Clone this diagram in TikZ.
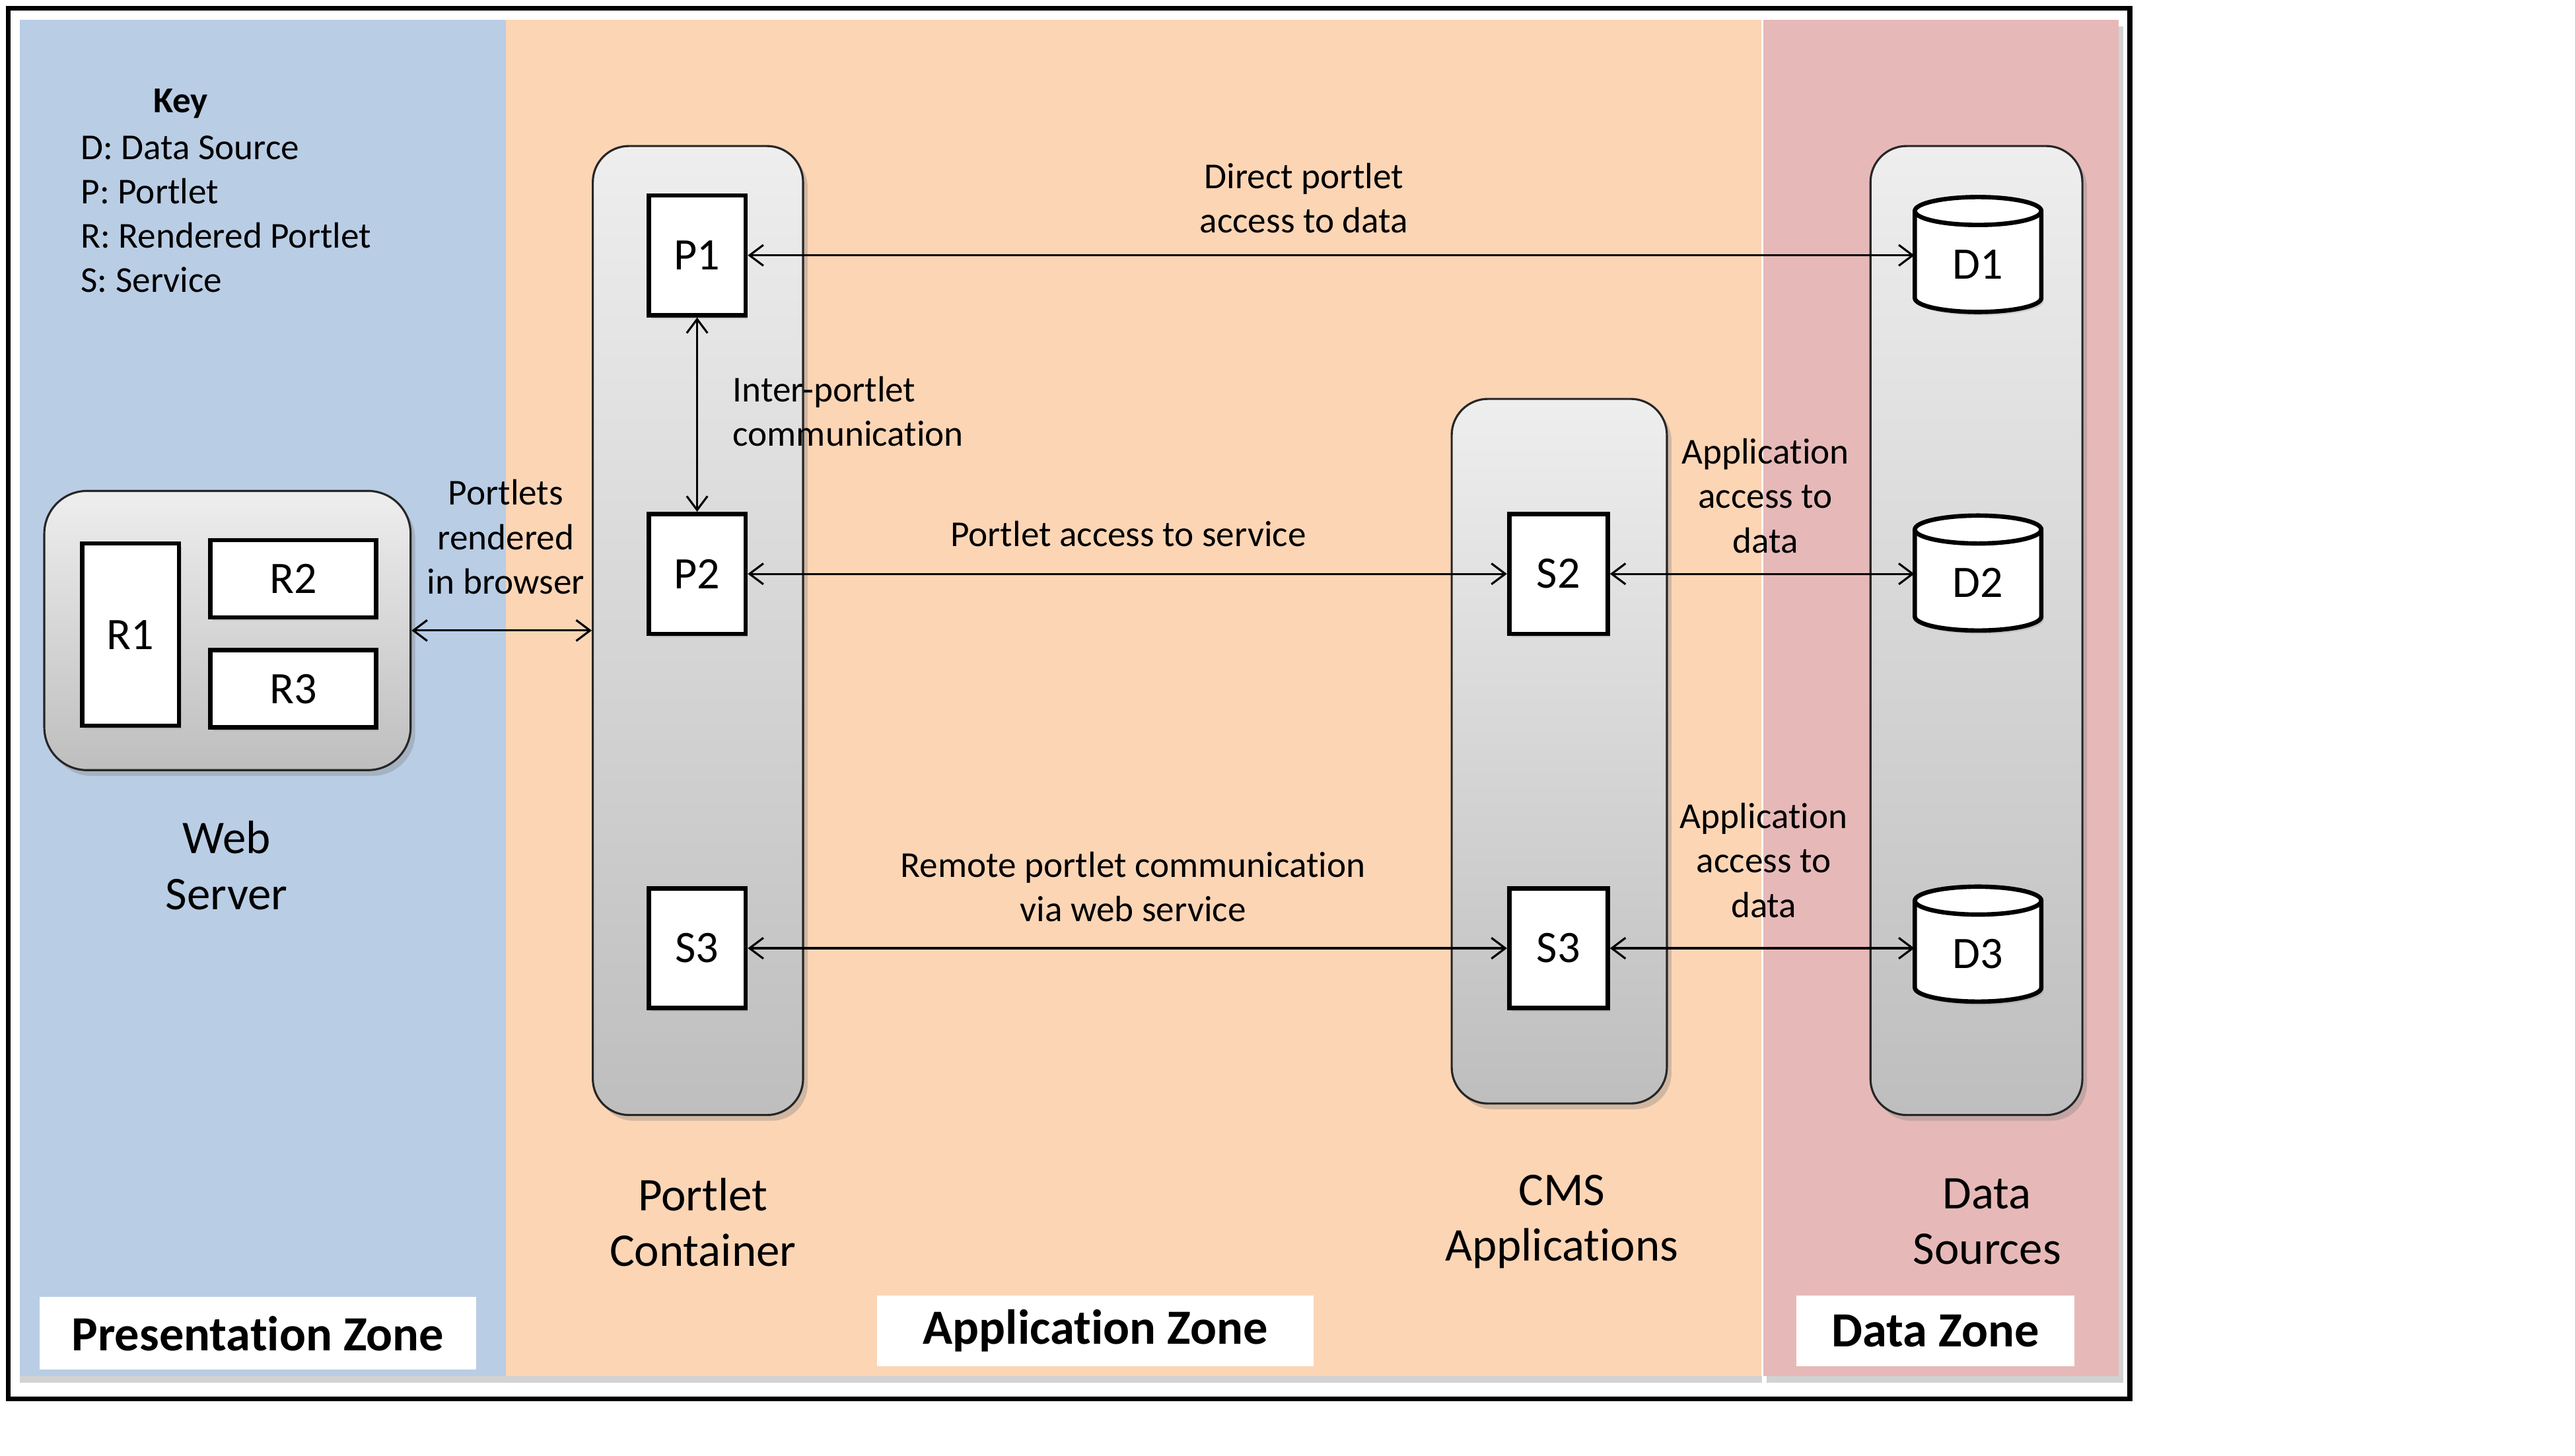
\documentclass[tikz,border=0pt]{standalone}
\usepackage{fontspec}
\setmainfont{Carlito}[RawFeature={-liga;-clig;-dlig}]
\usetikzlibrary{arrows.meta,shadows,calc}
\definecolor{zblue}{HTML}{B9CDE5}
\definecolor{zorange}{HTML}{FCD5B5}
\definecolor{zpink}{HTML}{E6B9B8}
\definecolor{ctop}{HTML}{EEEEEE}
\definecolor{cbot}{HTML}{BEBEBE}
\newcommand\dbcyl[2]{%
  \draw[line width=1.9pt, fill=white, drop shadow={opacity=0.25,shadow xshift=1pt,shadow yshift=-1.5pt}]
    ({#1-38.5},{#2-26.5}) -- ({#1-38.5},{#2+26.5})
    arc[start angle=180,end angle=0,x radius=38.5,y radius=8.5]
    -- ({#1+38.5},{#2-26.5})
    arc[start angle=0,end angle=-180,x radius=38.5,y radius=8.5] -- cycle;
  \draw[line width=1.9pt] ({#1-38.5},{#2-26.5}) arc[start angle=180,end angle=0,x radius=38.5,y radius=8.5];
}
\begin{document}
\begin{tikzpicture}[x=0.025cm,y=-0.025cm,
  lbl/.style={font=\fontsize{15.8}{19.2}\selectfont, align=center, inner sep=0pt},
  big/.style={font=\fontsize{20.3}{24.2}\selectfont, align=center, inner sep=0pt},
  zonelbl/.style={fill=white, font=\bfseries\fontsize{21.3}{25}\selectfont, inner sep=0pt},
  cont/.style={draw=black!85, line width=0.9pt, rounded corners=0.55cm, top color=ctop, bottom color=cbot,
     drop shadow={opacity=0.35,shadow xshift=2pt,shadow yshift=-2.5pt}},
  item/.style={draw, fill=white, line width=1.9pt, font=\fontsize{19.5}{22}\selectfont, inner sep=0pt,
     drop shadow={opacity=0.25,shadow xshift=1pt,shadow yshift=-1.5pt}},
  dbtext/.style={font=\fontsize{19.5}{22}\selectfont, inner sep=0pt, minimum width=1.925cm, minimum height=1.2cm},
  arr/.style={<->, >={Straight Barb[length=6pt,width=9pt]}, line width=0.9pt}
]
\useasboundingbox (0,0) rectangle (1568,886.7);
\fill[white] (0,0) rectangle (1568,886.7);
% zones
\fill[zblue, drop shadow={opacity=0.35,shadow xshift=0pt,shadow yshift=-3pt}] (12,12) rectangle (308,838);
\fill[zorange, drop shadow={opacity=0.35,shadow xshift=0pt,shadow yshift=-3pt}] (308,12) rectangle (1073,838);
\fill[zpink, drop shadow={opacity=0.35,shadow xshift=2pt,shadow yshift=-3pt}] (1073,12) rectangle (1290,838);
\draw[white!85!zorange, line width=0.8pt] (1073,12) -- (1073,838);
\draw[line width=2.2pt] (5,5) rectangle (1297,852);

% key
\node[lbl, font=\bfseries\fontsize{15.8}{19.2}\selectfont] (keyt) at (110,63) {Key};
\node[lbl, align=left, anchor=west] (keyl) at (49,130.5)
  {D: Data Source\\P: Portlet\\R: Rendered Portlet\\S: Service};

% containers
\node[cont, rounded corners=0.65cm, minimum width=5.575cm, minimum height=4.25cm] (ws) at (138.5,384) {};
\node[cont, minimum width=3.2cm, minimum height=14.75cm] (pc) at (425,384) {};
\node[cont, minimum width=3.275cm, minimum height=10.725cm] (cms) at (949.5,457.5) {};
\node[cont, minimum width=3.225cm, minimum height=14.75cm] (ds) at (1203.5,384) {};

% items
\node[item, minimum width=1.475cm, minimum height=2.775cm] (R1) at (79.5,386.5) {R1};
\node[item, minimum width=2.525cm, minimum height=1.175cm] (R2) at (178.5,352.5) {R2};
\node[item, minimum width=2.525cm, minimum height=1.175cm] (R3) at (178.5,419.5) {R3};
\node[item, minimum width=1.475cm, minimum height=1.825cm] (P1) at (424.5,155.5) {P1};
\node[item, minimum width=1.475cm, minimum height=1.825cm] (P2) at (424.5,349.5) {P2};
\node[item, minimum width=1.475cm, minimum height=1.825cm] (S3a) at (424.5,577.5) {S3};
\node[item, minimum width=1.5cm, minimum height=1.825cm] (S2) at (949,349.5) {S2};
\node[item, minimum width=1.5cm, minimum height=1.825cm] (S3b) at (949,577.5) {S3};

\dbcyl{1204.5}{155}
\dbcyl{1204.5}{349}
\dbcyl{1204.5}{575}
\node[dbtext] (D1) at (1204.5,161) {D1};
\node[dbtext] (D2) at (1204.5,355) {D2};
\node[dbtext] (D3) at (1204.5,581) {D3};

% labels
\node[big] (wsl) at (138,527) {Web\\Server};
\node[big] (pcl) at (428,744.5) {Portlet\\Container};
\node[big] (cmsl) at (951,744) {CMS\\Applications};
\node[big] (dsl) at (1210,744) {Data\\Sources};

\node[lbl] (l1) at (308,327) {Portlets\\rendered\\in browser};
\node[lbl, align=left, anchor=west] (l2) at (446,250.5) {Inter-portlet\\communication};
\node[lbl] (l3) at (794,120.5) {Direct portlet\\access to data};
\node[lbl] (l4) at (687,325) {Portlet access to service};
\node[lbl] (l5) at (1075,302) {Application\\access to\\data};
\node[lbl] (l6) at (690,540) {Remote portlet communication\\via web service};
\node[lbl] (l7) at (1074,524) {Application\\access to\\data};

% zone labels
\node[zonelbl, minimum width=6.65cm, minimum height=1.1cm] (z1) at (157,812) {Presentation Zone};
\node[zonelbl, minimum width=6.65cm, minimum height=1.075cm] (z2) at (667,810.5) {Application Zone};
\node[zonelbl, minimum width=4.225cm, minimum height=1.075cm] (z3) at (1178.5,810.5) {Data Zone};

% connectors
\draw[arr] (ws.east) -- (pc.west);
\draw[arr] (P1.south) -- (P2.north);
\draw[arr] (P1.east) -- (P1.east -| D1.west);
\draw[arr] (P2.east) -- (S2.west);
\draw[arr] (S2.east) -- (S2.east -| D2.west);
\draw[arr] (S3a.east) -- (S3b.west);
\draw[arr] (S3b.east) -- (S3b.east -| D3.west);
\end{tikzpicture}
\end{document}
